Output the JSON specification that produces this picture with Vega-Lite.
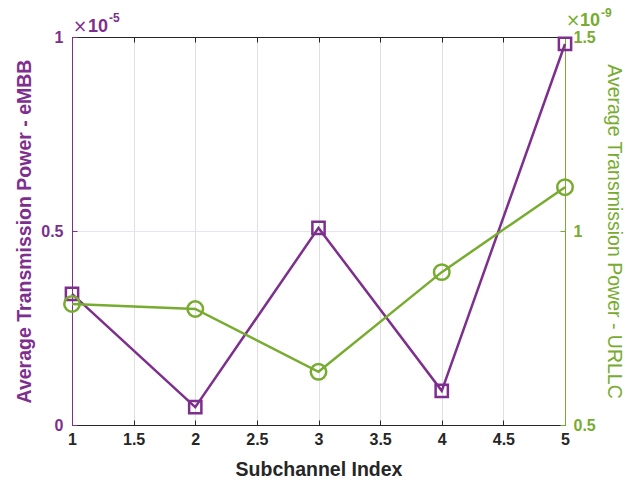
{
  "$schema": "https://vega.github.io/schema/vega-lite/v6.json",
  "width": 493,
  "height": 388,
  "autosize": {"type": "none"},
  "padding": {"left": 72, "top": 37, "right": 73, "bottom": 57},
  "background": "white",
  "config": {
    "view": {"stroke": null},
    "font": "Liberation Sans",
    "axis": {"labelFont": "Liberation Sans", "titleFont": "Liberation Sans"}
  },
  "datasets": {
    "power": [
      {"idx": 1, "embb": 3.38e-6, "urllc": 8.12e-10},
      {"idx": 2, "embb": 0.46e-6, "urllc": 7.99e-10},
      {"idx": 3, "embb": 5.08e-6, "urllc": 6.37e-10},
      {"idx": 4, "embb": 0.88e-6, "urllc": 8.94e-10},
      {"idx": 5, "embb": 9.82e-6, "urllc": 11.13e-10}
    ],
    "embbExp": [{"idx": 1, "embb": 1e-5, "times": "×", "base": "10", "exp": "-5"}],
    "urllcExp": [{"idx": 5, "urllc": 1.5e-9, "times": "×", "base": "10", "exp": "-9"}]
  },
  "data": {"name": "power"},
  "layer": [
    {
      "encoding": {
        "x": {
          "field": "idx",
          "type": "quantitative",
          "scale": {"domain": [1, 5], "nice": false, "zero": false},
          "axis": {
            "orient": "bottom",
            "title": "Subchannel Index",
            "titleColor": "#262626",
            "titleFontSize": 19.5,
            "titleFontWeight": "bold",
            "titlePadding": 13,
            "values": [1, 1.5, 2, 2.5, 3, 3.5, 4, 4.5, 5],
            "format": "~g",
            "labelColor": "#262626",
            "labelFontSize": 16,
            "labelFontWeight": "bold",
            "labelPadding": 11,
            "labelFlush": false,
            "domainColor": "#262626",
            "domainWidth": 1,
            "tickColor": "#262626",
            "tickSize": -5,
            "grid": true,
            "gridColor": "#dfdfdf",
            "gridWidth": 1
          }
        },
        "y": {
          "field": "embb",
          "type": "quantitative",
          "scale": {"domain": [0, 1e-5], "nice": false, "zero": false},
          "axis": {
            "orient": "left",
            "title": "Average Transmission Power - eMBB",
            "titleColor": "#7E2F8E",
            "titleFontSize": 19.5,
            "titleFontWeight": "bold",
            "titlePadding": 6,
            "values": [0, 5e-6, 1e-5],
            "labelExpr": "format(datum.value * 1e5, '~g')",
            "labelColor": "#7E2F8E",
            "labelFontSize": 16,
            "labelFontWeight": "bold",
            "labelPadding": 14,
            "labelFlush": false,
            "domainColor": "#7E2F8E",
            "domainWidth": 1,
            "tickColor": "#7E2F8E",
            "tickSize": -5,
            "grid": true,
            "gridColor": "#ece1ee",
            "gridWidth": 1
          }
        }
      },
      "layer": [
        {
          "mark": {"type": "line", "color": "#7E2F8E", "strokeWidth": 2.5}
        },
        {
          "mark": {
            "type": "point",
            "shape": "square",
            "filled": false,
            "size": 150,
            "color": "#7E2F8E",
            "strokeWidth": 2.5,
            "opacity": 1
          }
        },
        {
          "data": {"name": "embbExp"},
          "mark": {
            "type": "text",
            "align": "left",
            "baseline": "alphabetic",
            "dx": 1,
            "dy": -5,
            "font": "DejaVu Sans",
            "fontSize": 17,
            "fontWeight": "normal",
            "color": "#7E2F8E"
          },
          "encoding": {"text": {"field": "times"}}
        },
        {
          "data": {"name": "embbExp"},
          "mark": {
            "type": "text",
            "align": "left",
            "baseline": "alphabetic",
            "dx": 16,
            "dy": -5,
            "fontSize": 18,
            "fontWeight": "bold",
            "color": "#7E2F8E"
          },
          "encoding": {"text": {"field": "base"}}
        },
        {
          "data": {"name": "embbExp"},
          "mark": {
            "type": "text",
            "align": "left",
            "baseline": "alphabetic",
            "dx": 37,
            "dy": -15,
            "fontSize": 12,
            "fontWeight": "bold",
            "color": "#7E2F8E"
          },
          "encoding": {"text": {"field": "exp"}}
        }
      ]
    },
    {
      "encoding": {
        "x": {
          "field": "idx",
          "type": "quantitative",
          "scale": {"domain": [1, 5], "nice": false, "zero": false},
          "axis": {
            "orient": "top",
            "title": null,
            "labels": false,
            "values": [1, 1.5, 2, 2.5, 3, 3.5, 4, 4.5, 5],
            "domainColor": "#262626",
            "domainWidth": 1,
            "tickColor": "#262626",
            "tickSize": -5,
            "grid": false
          }
        },
        "y": {
          "field": "urllc",
          "type": "quantitative",
          "scale": {"domain": [5e-10, 1.5e-9], "nice": false, "zero": false},
          "axis": {
            "orient": "right",
            "title": "Average Transmission Power - URLLC",
            "titleColor": "#77AC30",
            "titleFontSize": 19.5,
            "titleFontWeight": "normal",
            "titlePadding": 8,
            "values": [5e-10, 1e-9, 1.5e-9],
            "labelExpr": "format(datum.value * 1e9, '~g')",
            "labelColor": "#77AC30",
            "labelFontSize": 16,
            "labelFontWeight": "bold",
            "labelPadding": 13,
            "labelFlush": false,
            "domainColor": "#77AC30",
            "domainWidth": 1,
            "tickColor": "#77AC30",
            "tickSize": -5,
            "grid": false
          }
        }
      },
      "layer": [
        {
          "mark": {"type": "line", "color": "#77AC30", "strokeWidth": 2.5}
        },
        {
          "mark": {
            "type": "point",
            "shape": "circle",
            "filled": false,
            "size": 240,
            "color": "#77AC30",
            "strokeWidth": 2.5,
            "opacity": 1
          }
        },
        {
          "data": {"name": "urllcExp"},
          "mark": {
            "type": "text",
            "align": "left",
            "baseline": "alphabetic",
            "dx": 1,
            "dy": -11,
            "font": "DejaVu Sans",
            "fontSize": 17,
            "fontWeight": "normal",
            "color": "#77AC30"
          },
          "encoding": {"text": {"field": "times"}}
        },
        {
          "data": {"name": "urllcExp"},
          "mark": {
            "type": "text",
            "align": "left",
            "baseline": "alphabetic",
            "dx": 15,
            "dy": -11,
            "fontSize": 18,
            "fontWeight": "bold",
            "color": "#77AC30"
          },
          "encoding": {"text": {"field": "base"}}
        },
        {
          "data": {"name": "urllcExp"},
          "mark": {
            "type": "text",
            "align": "left",
            "baseline": "alphabetic",
            "dx": 36,
            "dy": -20,
            "fontSize": 12,
            "fontWeight": "bold",
            "color": "#77AC30"
          },
          "encoding": {"text": {"field": "exp"}}
        }
      ]
    }
  ],
  "resolve": {"scale": {"y": "independent"}, "axis": {"x": "independent"}}
}
